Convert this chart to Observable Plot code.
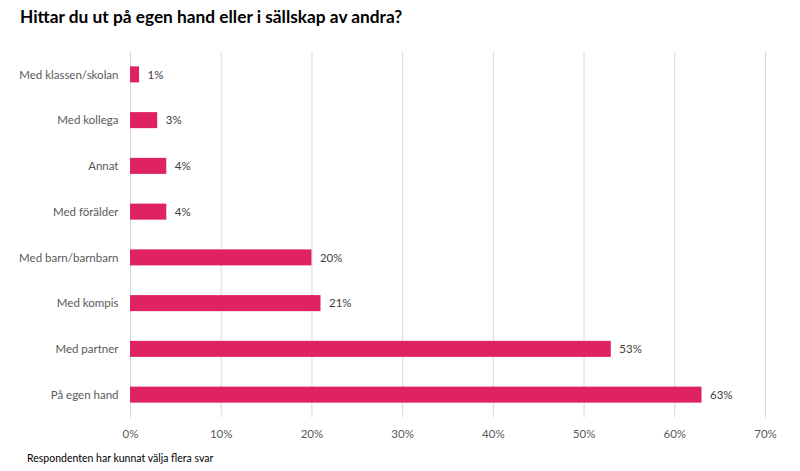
<!DOCTYPE html>
<html>
<head>
<meta charset="utf-8">
<script src="https://cdn.jsdelivr.net/npm/d3@7"></script>
<script src="https://cdn.jsdelivr.net/npm/@observablehq/plot@0.6"></script>
<style>
  body { margin: 0; background: #fff; font-family: Lato, "Open Sans", sans-serif; }
  #wrap { width: 800px; height: 471px; position: relative; overflow: hidden; }
  #title { position: absolute; left: 20px; top: 6px; font-size: 17.3px; font-weight: bold; color: #000; }
  #chart { position: absolute; left: 0; top: 38px; }
  #foot { position: absolute; left: 27px; top: 452px; font-size: 10.5px; color: #000; }
</style>
</head>
<body>
<div id="wrap">
  <div id="title">Hittar du ut på egen hand eller i sällskap av andra?</div>
  <div id="chart"></div>
  <div id="foot">Respondenten har kunnat välja flera svar</div>
</div>
<script>
const categories = ["Med klassen/skolan", "Med kollega", "Annat", "Med förälder", "Med barn/barnbarn", "Med kompis", "Med partner", "På egen hand"];
const values = [1, 3, 4, 4, 20, 21, 53, 63];
const xTicks = [0, 10, 20, 30, 40, 50, 60, 70];

const data = categories.map((c, i) => ({category: c, value: values[i]}));

const chart = Plot.plot({
  width: 800,
  height: 410,
  marginLeft: 130,
  marginRight: 35,
  marginTop: 13.5,
  marginBottom: 30.5,
  style: {fontFamily: "Lato, 'Open Sans', sans-serif", fontSize: "11.5px", color: "#595959", background: "transparent"},
  x: {domain: [0, 70], ticks: xTicks, tickFormat: d => d + "%", label: null, tickSize: 0, tickPadding: 12},
  y: {domain: categories, label: null, tickSize: 0, tickPadding: 12, paddingInner: 0.65, paddingOuter: 0.325, round: false},
  marks: [
    Plot.ruleX(xTicks, {stroke: "#d9d9d9", strokeWidth: 1}),
    Plot.barX(data, {x: "value", y: "category", fill: "#DE2360"}),
    Plot.text(data, {x: "value", y: "category", text: d => d.value + "%", textAnchor: "start", dx: 8, fill: "#404040", fontSize: 11.5})
  ]
});
document.getElementById("chart").appendChild(chart);
</script>
</body>
</html>
